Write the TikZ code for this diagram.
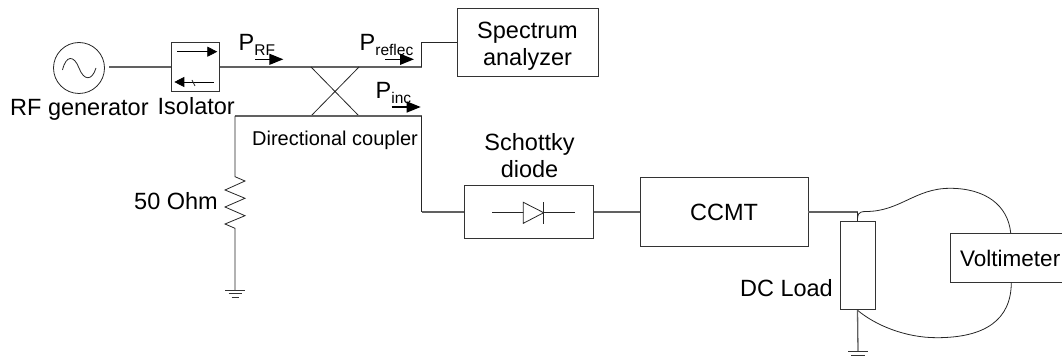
\documentclass[tikz,border=0pt]{standalone}
\usepackage{fontspec}
\setmainfont{Liberation Sans}
\usetikzlibrary{arrows.meta}
\newcommand{\fs}[1]{\fontsize{#1}{#1}\selectfont}
\newcommand{\psub}[1]{P\raisebox{-5pt}{\fs{15.5}#1}}
\definecolor{wire}{gray}{0.38}
\tikzset{
  x=1pt,y=-1pt,
  blk/.style={draw=black!80,line width=0.95pt,fill=white,inner sep=0pt,align=center,font=\fs{23.5}},
  lab/.style={inner sep=0pt,font=\fs{23.5},align=center},
  wireline/.style={draw=wire,line width=1.3pt},
  thin line/.style={draw=black!85,line width=0.8pt},
  powerarrow/.style={draw=black,line width=1.3pt,-{Triangle[length=14pt,width=11pt]}},
  isoarrow/.style={draw=black,line width=0.8pt,-{Triangle[length=10pt,width=10pt]}},
  gnd/.style={draw=black!80,line width=0.9pt}
}
\begin{document}
\begin{tikzpicture}
\useasboundingbox (0,0) rectangle (1062,358);
% generator
\node[circle,draw=black!85,line width=0.8pt,minimum size=51pt,inner sep=0pt] (gen) at (79,68) {};
\draw[thin line] (62.5,70) .. controls (66,55) and (74,55) .. (79,68) .. controls (84,81) and (92,81) .. (96,68);
\node[lab,anchor=base west] (genl) at (10,116) {RF generator};
% isolator
\node[blk,minimum width=48.5pt,minimum height=48.5pt] (iso) at (195.7,67) {};
\coordinate (isoa1) at (177.3,51.7); \coordinate (isoa2) at (217.3,51.7);
\coordinate (isob1) at (213.7,82); \coordinate (isob2) at (174.3,82);
\draw[isoarrow] (isoa1) -- (isoa2);
\draw[isoarrow] (isob1) -- (isob2);
\draw[thin line] (192,80) -- (195,86);
\node[lab,anchor=base west] (isol) at (157.5,115) {Isolator};
\coordinate (genout) at (109,67);
\draw[wireline] (genout) -- (iso.west);
% coupler
\coordinate (c1) at (311,67); \coordinate (c2) at (359,67);
\coordinate (c3) at (311,116); \coordinate (c4) at (359,116);
\coordinate (t1) at (421.5,67); \coordinate (t2) at (421.5,42.5);
\coordinate (b1) at (421.5,116); \coordinate (b2) at (421.5,212);
\coordinate (l1) at (235,116);
\draw[wireline] (iso.east) -- (c1) -- (c2) -- (t1);
\draw[thin line] (t1) -- (t2);
\draw[thin line] (c1) -- (c4) (c2) -- (c3);
\draw[wireline] (l1) -- (c3) -- (c4) -- (b1);
\node[lab,anchor=base west,font=\fs{20}] (dirl) at (252,146) {Directional coupler};
% spectrum analyzer
\node[blk,minimum width=141pt,minimum height=68pt] (spec) at (527.5,42) {};
\node[lab] (specl) at (527.5,46) {Spectrum\\[4pt]analyzer};
\draw[thin line] (t2) -- (spec.west |- t2);
% power arrows
\coordinate (prf1) at (255,59.3); \coordinate (prf2) at (283.3,59.3);
\coordinate (pre1) at (385,59.3); \coordinate (pre2) at (414,59.3);
\coordinate (pin1) at (391.7,107); \coordinate (pin2) at (420.7,107);
\draw[powerarrow] (prf1) -- (prf2);
\draw[powerarrow] (pre1) -- (pre2);
\draw[powerarrow] (pin1) -- (pin2);
\node[lab,anchor=base west] (prfl) at (238.5,51) {\psub{RF}};
\node[lab,anchor=base west] (prel) at (359.5,51) {\psub{reflec}};
\node[lab,anchor=base west] (pinl) at (375.5,99) {\psub{inc}};
% resistor
\coordinate (r1) at (235,176.7); \coordinate (r8) at (235,228.3); \coordinate (g1) at (235,290);
\draw[thin line] (l1) -- (r1) -- (245,181) -- (225,190) -- (245,198.3) -- (225,207) -- (245,215.7) -- (225,224) -- (r8) -- (g1);
\node[lab,anchor=base east] (ohm) at (218,209) {50 Ohm};
\draw[gnd] (225,290.3) -- (245,290.3) (228.5,293.5) -- (241.5,293.5) (231.5,297) -- (238.5,297);
% diode
\node[blk,minimum width=129.5pt,minimum height=52.5pt] (dio) at (529,212) {};
\node[lab] (diol) at (529.5,155.5) {Schottky\\[4pt]diode};
\draw[thin line] (492,212.7) -- (575,212.7);
\draw[thin line,fill=white] (523.3,202.3) -- (543.7,212.7) -- (523.3,223.3) -- cycle;
\draw[thin line] (543.7,202) -- (543.7,224);
\draw[thin line] (b1) -- (b2);
\draw[wireline] (b2) -- (dio.west);
% CCMT
\node[blk,minimum width=168pt,minimum height=68.5pt] (ccmt) at (724,212) {CCMT};
\draw[wireline] (dio.east) -- (ccmt.west);
% load
\node[blk,minimum width=35pt,minimum height=88.5pt] (load) at (857.5,265.5) {};
\coordinate (j) at (857.5,212);
\draw[wireline] (ccmt.east) -- (j);
\draw[thin line] (load.north) -- (j);
\node[lab,anchor=base east] (loadl) at (833,296.5) {DC Load};
% voltimeter
\coordinate (vt) at (1010.7,233); \coordinate (vb) at (1011.3,282.3);
\node[blk,anchor=north west,minimum width=130pt,minimum height=49.3pt] (volt) at (950,233) {};
\node[lab,anchor=base west,font=\fs{22.5}] (voltl) at (960,266.5) {Voltimeter};
\draw[thin line] (load.north) .. controls (857.5,215) and (857.5,211.5) .. (866,211.5) .. controls (900,211.5) and (915,188.3) .. (950,188.3) .. controls (985,188.3) and (1008,205) .. (vt);
\draw[thin line] (load.south) .. controls (875,325) and (905,337.7) .. (936.7,337.7) .. controls (985,337.7) and (1011.3,320) .. (vb);
% ground
\coordinate (g2) at (858,351.7);
\draw[wireline] (load.south) -- (g2);
\draw[gnd] (848,351.7) -- (868,351.7) (851,355.5) -- (865,355.5);
\end{tikzpicture}
\end{document}
